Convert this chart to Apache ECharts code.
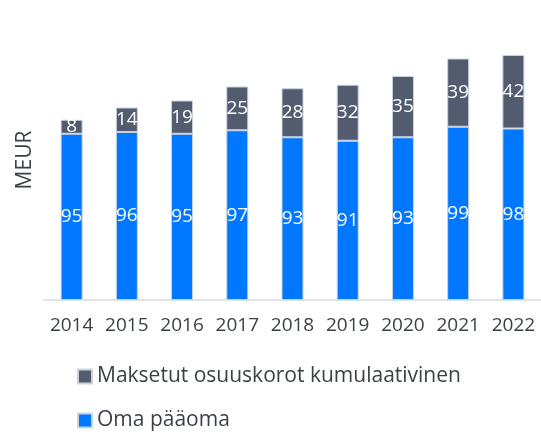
<!DOCTYPE html>
<html><head><meta charset="utf-8">
<script src="https://cdn.jsdelivr.net/npm/echarts@6/dist/echarts.min.js"></script>
<style>html,body{margin:0;padding:0;background:#fff}#c{width:541px;height:436px}</style>
</head><body><div id="c"></div>
<script>
const categories = ['2014','2015','2016','2017','2018','2019','2020','2021','2022'];
const omaPaaoma = [95,96,95,97,93,91,93,99,98];
const maksetut = [8,14,19,25,28,32,35,39,42];
const seriesNames = ['Maksetut osuuskorot kumulaativinen','Oma pääoma'];
const FONT = '"Open Sans", sans-serif';
const chart = echarts.init(document.getElementById('c'), null, {renderer:'canvas'});
chart.setOption({
  animation:false,
  grid:{left:44, top:20, width:498, height:280},
  legend:{
    data:seriesNames, orient:'vertical', left:77, top:366, height:70, padding:0,
    itemWidth:14, itemHeight:14, itemGap:23, icon:'rect',
    textStyle:{fontFamily:FONT, fontSize:21, color:'#3a3f48'}
  },
  xAxis:{
    type:'category', data:categories,
    axisLine:{lineStyle:{color:'#dfe4ea', width:2}},
    axisTick:{show:false},
    axisLabel:{interval:0, fontFamily:FONT, fontSize:19, color:'#3a3f48', margin:16}
  },
  yAxis:{
    type:'value', min:0, max:160,
    name:'MEUR', nameLocation:'middle', nameGap:8,
    nameTextStyle:{fontFamily:FONT, fontSize:21, color:'#3a3f48'},
    axisLine:{show:false}, axisTick:{show:false}, axisLabel:{show:false}, splitLine:{show:false}
  },
  series:[
    {name:seriesNames[1], type:'bar', stack:'a', data:omaPaaoma, barWidth:22,
     itemStyle:{color:'#0077ff', borderColor:'#c9d3e0', borderWidth:1},
     label:{show:true, position:'inside', color:'#fff', fontFamily:FONT, fontSize:19}},
    {name:seriesNames[0], type:'bar', stack:'a', data:maksetut, barWidth:22,
     itemStyle:{color:'#525c6e', borderColor:'#c9d3e0', borderWidth:1},
     label:{show:true, position:'inside', color:'#fff', fontFamily:FONT, fontSize:19}}
  ]
});
</script></body></html>
